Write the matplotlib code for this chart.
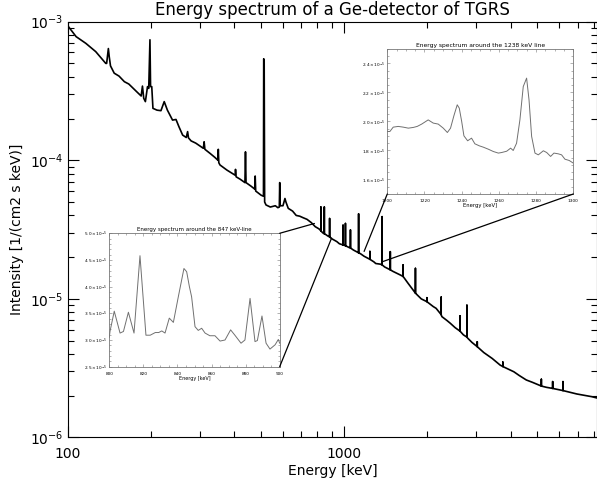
import numpy as np
import matplotlib
matplotlib.use('Agg')
from matplotlib import pyplot as plt
from matplotlib.patches import ConnectionPatch
from matplotlib.ticker import FixedLocator, MultipleLocator, NullFormatter

# main spectrum (keV, 1/(cm2 s keV)); repeated energies are the narrow lines
energy = [100, 107, 116, 126, 137, 138, 140, 141, 142.5, 147, 153, 160, 166, 172, 178, 184,
          186, 188, 190.6, 194, 196, 198, 199, 201, 203, 210, 217, 223, 229, 239, 246, 252,
          260, 268, 271, 273, 279, 290, 300, 309, 311, 313, 327, 340, 349, 350, 351.5, 355,
          376, 395, 403, 404, 406, 420, 437, 439, 441, 460, 474, 476, 478, 500, 510, 511,
          513, 515, 521, 540, 563, 575, 582, 584, 586, 600, 610, 615, 627, 650, 670, 690,
          710, 733, 760, 785, 810, 823, 823, 823, 835, 847, 847, 847, 860, 870, 885, 885,
          885, 900, 940, 960, 990, 990, 990, 1010, 1010, 1010, 1040, 1053, 1053, 1053, 1080,
          1127, 1127, 1127, 1144, 1180, 1238, 1238, 1238, 1280, 1300, 1352, 1371, 1371, 1371,
          1400, 1468, 1468, 1468, 1500, 1593, 1634, 1634, 1634, 1700, 1764, 1810, 1810, 1810,
          1835, 1900, 1991, 1991, 1991, 2100, 2150, 2243, 2243, 2243, 2256, 2350, 2420, 2520,
          2625, 2625, 2625, 2700, 2780, 2780, 2780, 2800, 2900, 3030, 3030, 3030, 3200, 3430,
          3666, 3750, 3750, 3750, 4110, 4300, 4560, 4800, 5170, 5170, 5170, 5400, 5680, 5680,
          5680, 6190, 6190, 6190, 6950, 7870, 8200]
intensity = [9.3e-4, 7.8e-4, 6.98e-4, 6.08e-4, 5.0e-4, 5.0e-4, 6.4e-4, 5.6e-4, 4.8e-4, 4.25e-4,
             4.05e-4, 3.69e-4, 3.55e-4, 3.31e-4, 3.1e-4, 2.91e-4, 3.43e-4, 2.8e-4, 2.65e-4,
             3.4e-4, 3.3e-4, 7.4e-4, 3.4e-4, 3.4e-4, 2.37e-4, 2.3e-4, 2.28e-4, 2.65e-4, 2.3e-4,
             1.95e-4, 1.97e-4, 1.75e-4, 1.52e-4, 1.46e-4, 1.61e-4, 1.45e-4, 1.38e-4, 1.33e-4,
             1.27e-4, 1.22e-4, 1.36e-4, 1.2e-4, 1.12e-4, 1.05e-4, 1.0e-4, 1.2e-4, 9.6e-5,
             9.25e-5, 8.5e-5, 8.0e-5, 7.8e-5, 8.6e-5, 7.6e-5, 7.3e-5, 6.9e-5, 1.15e-4, 6.9e-5,
             6.5e-5, 6.2e-5, 7.7e-5, 6.0e-5, 5.6e-5, 5.5e-5, 5.4e-4, 5.2e-4, 5.0e-5, 4.76e-5,
             4.6e-5, 4.7e-5, 4.55e-5, 4.6e-5, 6.9e-5, 4.7e-5, 4.7e-5, 5.3e-5, 5.0e-5, 4.5e-5,
             4.3e-5, 4.0e-5, 3.95e-5, 3.85e-5, 3.75e-5, 3.55e-5, 3.32e-5, 3.2e-5, 3.1e-5, 4.6e-5,
             3.1e-5, 3.0e-5, 2.95e-5, 4.6e-5, 2.95e-5, 2.9e-5, 2.85e-5, 2.8e-5, 3.8e-5, 2.8e-5,
             2.72e-5, 2.59e-5, 2.5e-5, 2.45e-5, 3.4e-5, 2.45e-5, 2.42e-5, 3.5e-5, 2.42e-5,
             2.35e-5, 2.33e-5, 3.14e-5, 2.33e-5, 2.25e-5, 2.15e-5, 4.1e-5, 2.15e-5, 2.12e-5,
             2.03e-5, 1.93e-5, 2.2e-5, 1.93e-5, 1.85e-5, 1.8e-5, 1.78e-5, 1.76e-5, 3.92e-5,
             1.76e-5, 1.7e-5, 1.62e-5, 2.19e-5, 1.62e-5, 1.58e-5, 1.49e-5, 1.45e-5, 1.76e-5,
             1.45e-5, 1.3e-5, 1.18e-5, 1.1e-5, 1.66e-5, 1.1e-5, 1.07e-5, 1.0e-5, 9.55e-6,
             1.02e-5, 9.55e-6, 8.8e-6, 8.55e-6, 7.7e-6, 1.03e-5, 7.7e-6, 7.45e-6, 7.0e-6,
             6.67e-6, 6.2e-6, 5.85e-6, 7.53e-6, 5.85e-6, 5.5e-6, 5.3e-6, 9.0e-6, 5.3e-6, 5.2e-6,
             4.85e-6, 4.52e-6, 4.9e-6, 4.52e-6, 4.1e-6, 3.72e-6, 3.33e-6, 3.25e-6, 3.5e-6,
             3.25e-6, 2.98e-6, 2.8e-6, 2.6e-6, 2.5e-6, 2.35e-6, 2.63e-6, 2.35e-6, 2.3e-6,
             2.26e-6, 2.53e-6, 2.26e-6, 2.18e-6, 2.53e-6, 2.18e-6, 2.06e-6, 1.97e-6, 1.93e-6]

# inset around 847 keV (intensity in 1e-5)
e847 = [800, 800.4, 802.9, 806.3, 808.3, 811.2, 814.5, 818, 821.5, 824, 827, 829, 830.8, 832.7,
        835.2, 837.6, 840.5, 843.8, 845.4, 847, 848.3, 850.3, 852.2, 854.2, 856.2, 859, 862,
        865, 867.9, 871.2, 873.7, 877.3, 879.6, 882.6, 885.5, 886.9, 889.6, 892, 894.3, 897.3,
        899.2, 900]
i847 = [3.05, 3.16, 3.54, 3.13, 3.16, 3.52, 3.13, 4.58, 3.09, 3.09, 3.14, 3.14, 3.17, 3.13,
        3.41, 3.33, 3.81, 4.34, 4.28, 4.0, 3.81, 3.25, 3.18, 3.22, 3.13, 3.08, 3.08, 2.98, 3.0,
        3.19, 3.09, 2.94, 3.0, 3.78, 2.97, 2.99, 3.45, 2.94, 2.83, 2.91, 3.01, 2.94]

# inset around 1238 keV (intensity in 1e-5)
e1238 = [1200, 1201.4, 1203.2, 1205.9, 1208.6, 1211.3, 1214, 1216.1, 1218.5, 1222, 1224.7,
         1227.4, 1230.1, 1232.3, 1234, 1235.8, 1237.6, 1238.7, 1240, 1241.2, 1243.2, 1245.3,
         1247.1, 1249.5, 1251.6, 1254.3, 1257, 1259.7, 1261.5, 1264.2, 1266.3, 1267.7, 1269.5,
         1271.3, 1273.1, 1274.9, 1276.2, 1277.6, 1279.4, 1281.2, 1283.9, 1285.7, 1287.8,
         1289.6, 1291.9, 1293.7, 1295.5, 1297.8, 1300]
i1238 = [1.931, 1.931, 1.961, 1.966, 1.961, 1.954, 1.959, 1.966, 1.982, 2.011, 1.989, 1.982,
         1.954, 1.924, 1.954, 2.039, 2.115, 2.092, 2.0, 1.901, 1.867, 1.885, 1.846, 1.832,
         1.823, 1.809, 1.793, 1.782, 1.786, 1.795, 1.816, 1.8, 1.85, 2.011, 2.241, 2.299,
         2.149, 1.897, 1.782, 1.77, 1.798, 1.786, 1.759, 1.782, 1.777, 1.77, 1.74, 1.731, 1.713]

ticks847 = [2.5, 3.0, 3.5, 4.0, 4.5, 5.0]
ticks1238 = [1.6, 1.8, 2.0, 2.2, 2.4]

fig = plt.figure(figsize=(5.97, 4.84), dpi=100)
ax = fig.add_axes([0.1139, 0.0961, 0.8856, 0.8591])
ax.plot(energy, intensity, color='black', lw=1.2)
ax.set_xscale('log')
ax.set_yscale('log')
ax.set_xlim(100, 8200)
ax.set_ylim(1e-6, 1e-3)
ax.set_title('Energy spectrum of a Ge-detector of TGRS', fontsize=12, pad=5)
ax.set_xlabel('Energy [keV]', fontsize=10, labelpad=2)
ax.set_ylabel('Intensity [1/(cm2 s keV)]', fontsize=10)
ax.xaxis.set_major_locator(FixedLocator([100, 1000]))
ax.xaxis.set_major_formatter(matplotlib.ticker.FixedFormatter(['100', '1000']))
ax.xaxis.set_minor_formatter(NullFormatter())
ax.tick_params(which='both', direction='in', top=True, right=True, labelsize=10)
ax.tick_params(which='major', length=8, width=0.8)
ax.tick_params(which='minor', length=4.5, width=0.8)
ax.tick_params(axis='x', pad=7)

def style_inset(a):
    for s in a.spines.values():
        s.set_color('#777777')
        s.set_linewidth(0.6)
    a.tick_params(which='both', direction='in', top=True, right=True, labelsize=3.1,
                  color='#777777', width=0.4)
    a.tick_params(axis='x', pad=3.5)
    a.tick_params(axis='y', pad=1.5)
    a.tick_params(which='major', length=2.5)
    a.tick_params(which='minor', length=1.3)

# inset 847 keV
ax1 = fig.add_axes([0.1831, 0.2424, 0.2854, 0.2756])
ax1.plot(e847, i847, color='#707070', lw=0.7)
ax1.set_xlim(800, 900)
ax1.set_ylim(2.5, 5.0)
ax1.set_xticks([800, 820, 840, 860, 880, 900])
ax1.xaxis.set_minor_locator(MultipleLocator(5))
ax1.set_yticks(ticks847)
ax1.set_yticklabels([r'$%.1f\times10^{-5}$' % t for t in ticks847])
ax1.yaxis.set_minor_locator(MultipleLocator(0.1))
ax1.set_title('Energy spectrum around the 847 keV-line', fontsize=4, pad=1.5)
ax1.set_xlabel('Energy [keV]', fontsize=3.5, labelpad=0.3)
style_inset(ax1)

# inset 1238 keV
ax2 = fig.add_axes([0.6487, 0.5992, 0.3116, 0.2996])
ax2.plot(e1238, i1238, color='#707070', lw=0.7)
ax2.set_xlim(1200, 1300)
ax2.set_ylim(1.5, 2.5)
ax2.set_xticks([1200, 1220, 1240, 1260, 1280, 1300])
ax2.xaxis.set_minor_locator(MultipleLocator(5))
ax2.set_yticks(ticks1238)
ax2.set_yticklabels([r'$%.1f\times10^{-5}$' % t for t in ticks1238])
ax2.yaxis.set_minor_locator(MultipleLocator(0.05))
ax2.set_title('Energy spectrum around the 1238 keV line', fontsize=4.3, pad=1.5)
ax2.set_xlabel('Energy [keV]', fontsize=3.8, labelpad=0.3)
style_inset(ax2)

# connector lines from the insets down to the spectrum
links = [(ax1, (900, 5.0), (780, 3.5e-5)), (ax1, (900, 2.5), (900, 2.75e-5)),
         (ax2, (1200, 1.5), (1180, 2.2e-5)), (ax2, (1300, 1.5), (1370, 1.85e-5))]
for a, p_in, p_main in links:
    con = ConnectionPatch(xyA=p_in, coordsA=a.transData, xyB=p_main, coordsB=ax.transData,
                          color='black', lw=0.9)
    fig.add_artist(con)

plt.savefig('out.png', dpi=100)
